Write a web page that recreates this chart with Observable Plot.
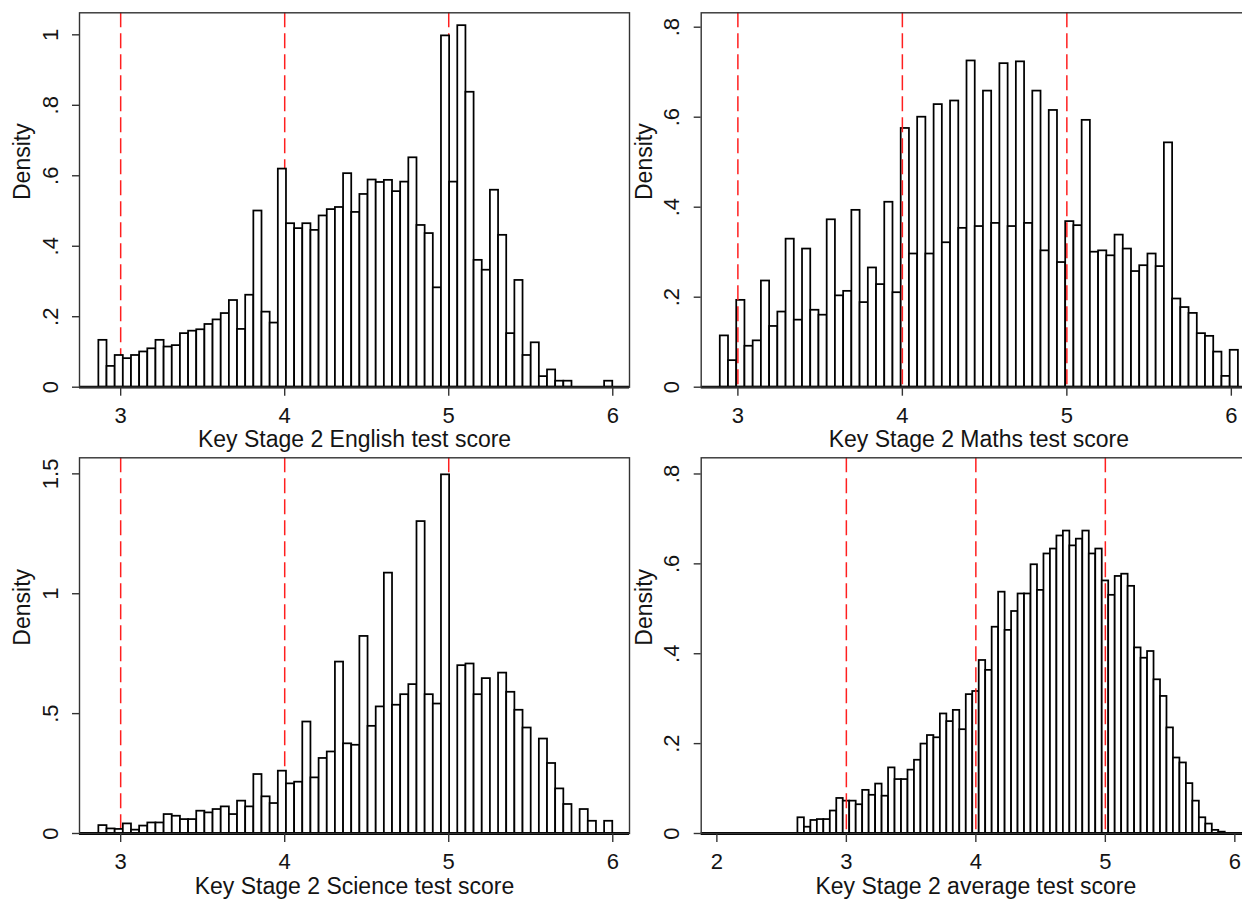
<!DOCTYPE html>
<html>
<head>
<meta charset="utf-8">
<script src="https://cdn.jsdelivr.net/npm/d3@7"></script>
<script src="https://cdn.jsdelivr.net/npm/@observablehq/plot@0.6"></script>
<style>
html, body { margin: 0; padding: 0; background: #fff; overflow: hidden; width: 1242px; height: 900px; }
#wrap { position: relative; width: 1242px; height: 900px; overflow: hidden; background: #fff; }
.panel { position: absolute; }
</style>
</head>
<body>
<div id="wrap"></div>
<script>
// ---- Data (density per bin) ----
const englishStart = 2.867, englishWidth = 0.04973;
const englishDensity = [0.133, 0.059, 0.090, 0.081, 0.090, 0.100, 0.109, 0.133, 0.114, 0.118,
  0.152, 0.159, 0.163, 0.178, 0.191, 0.209, 0.246, 0.164, 0.261, 0.500,
  0.213, 0.182, 0.619, 0.464, 0.450, 0.464, 0.445, 0.486, 0.504, 0.510,
  0.606, 0.496, 0.547, 0.588, 0.581, 0.587, 0.555, 0.582, 0.651, 0.459,
  0.436, 0.282, 0.997, 0.582, 1.026, 0.837, 0.360, 0.332, 0.559, 0.431,
  0.152, 0.303, 0.090, 0.126, 0.030, 0.049, 0.017, 0.017, 0, 0, 0, 0, 0.017];

const mathsStart = 2.893, mathsWidth = 0.05;
const mathsDensity = [0.114, 0.059, 0.193, 0.091, 0.103, 0.236, 0.135, 0.167, 0.329, 0.149,
  0.307, 0.171, 0.160, 0.372, 0.203, 0.213, 0.393, 0.188, 0.265, 0.228,
  0.411, 0.210, 0.575, 0.296, 0.600, 0.296, 0.628, 0.321, 0.636, 0.353,
  0.725, 0.357, 0.658, 0.364, 0.719, 0.357, 0.723, 0.364, 0.658, 0.303,
  0.615, 0.277, 0.368, 0.359, 0.593, 0.300, 0.303, 0.292, 0.338, 0.307,
  0.257, 0.270, 0.296, 0.268, 0.543, 0.196, 0.177, 0.164, 0.119, 0.113,
  0.078, 0.024, 0.082];

const scienceStart = 2.867, scienceWidth = 0.04973;
const scienceDensity = [0.033, 0.019, 0.017, 0.040, 0.014, 0.031, 0.044, 0.044, 0.079, 0.072,
  0.058, 0.058, 0.093, 0.086, 0.100, 0.111, 0.079, 0.135, 0.111, 0.246,
  0.153, 0.125, 0.260, 0.207, 0.214, 0.465, 0.232, 0.313, 0.340, 0.715,
  0.374, 0.368, 0.822, 0.447, 0.528, 1.086, 0.535, 0.579, 0.621, 1.301,
  0.579, 0.540, 1.496, 0, 0.700, 0.707, 0.579, 0.646, 0, 0.669,
  0.589, 0.514, 0.440, 0, 0.394, 0.292, 0.186, 0.121, 0, 0.100,
  0.051, 0, 0.051];

const averageStart = 2.626, averageWidth = 0.05;
const averageDensity = [0.035, 0.014, 0.029, 0.031, 0.031, 0.050, 0.078, 0.072, 0.072, 0.064,
  0.096, 0.085, 0.110, 0.083, 0.146, 0.120, 0.120, 0.141, 0.163, 0.199,
  0.218, 0.213, 0.266, 0.249, 0.274, 0.231, 0.309, 0.316, 0.385, 0.363,
  0.459, 0.537, 0.452, 0.494, 0.533, 0.533, 0.598, 0.541, 0.622, 0.633,
  0.662, 0.673, 0.640, 0.655, 0.673, 0.622, 0.633, 0.562, 0.530, 0.572,
  0.577, 0.550, 0.413, 0.390, 0.405, 0.342, 0.305, 0.235, 0.168, 0.157,
  0.111, 0.072, 0.035, 0.021, 0.007, 0.003];

const cutoffs = [3, 4, 5];
const titles = ["Key Stage 2 English test score", "Key Stage 2 Maths test score",
                "Key Stage 2 Science test score", "Key Stage 2 average test score"];
const yLabel = "Density";
const xTicksMain = [3, 4, 5, 6];
const xTicksAverage = [2, 3, 4, 5, 6];
const yTicksEnglish = [0, 0.2, 0.4, 0.6, 0.8, 1];
const yTicksMaths = [0, 0.2, 0.4, 0.6, 0.8];
const yTicksScience = [0, 0.5, 1, 1.5];
const yTicksAverage = [0, 0.2, 0.4, 0.6, 0.8];

// ---- helpers ----
function bins(heights, start, width) {
  return heights.map((d, i) => ({x1: start + i * width, x2: start + (i + 1) * width, y0: 0, d}))
    .filter(b => b.d > 0);
}
const fmt = d => d === 0 ? "0" : d3.format("~g")(d).replace(/^0\./, ".");
const FONT = "'Liberation Sans', Arial, Helvetica, sans-serif";
const FS = 22;

const panels = [
  {bins: bins(englishDensity, englishStart, englishWidth), title: titles[0], left: 0, top: 0, width: 640, height: 450,
   mL: 79, mR: 11, mT: 12.3, mB: 63.3, xDomain: [2.749, 6.102], yDomain: [0, 1.0625], xTicks: xTicksMain, yTicks: yTicksEnglish, redOnTop: false},
  {bins: bins(mathsDensity, mathsStart, mathsWidth), title: titles[1], left: 640, top: 0, width: 620, height: 450,
   mL: 60.7, mR: 4, mT: 12.3, mB: 63.3, xDomain: [2.777, 6.153], yDomain: [0, 0.832], xTicks: xTicksMain, yTicks: yTicksMaths, redOnTop: true},
  {bins: bins(scienceDensity, scienceStart, scienceWidth), title: titles[2], left: 0, top: 450, width: 640, height: 450,
   mL: 79, mR: 11, mT: 7.3, mB: 67, xDomain: [2.749, 6.102], yDomain: [0, 1.567], xTicks: xTicksMain, yTicks: yTicksScience, redOnTop: false},
  {bins: bins(averageDensity, averageStart, averageWidth), title: titles[3], left: 640, top: 450, width: 620, height: 450,
   mL: 60.7, mR: 10, mT: 7.3, mB: 67, xDomain: [1.879, 6.121], yDomain: [0, 0.836], xTicks: xTicksAverage, yTicks: yTicksAverage, redOnTop: true}
];

const wrap = document.getElementById("wrap");
for (const p of panels) {
  const red = Plot.ruleX(cutoffs, {stroke: "#ff1f1f", strokeWidth: 1.5, strokeDasharray: "15,6"});
  const bars = Plot.rect(p.bins, {x1: "x1", x2: "x2", y1: "y0", y2: "d", fill: "#fff", stroke: "#000", strokeWidth: 1.75});
  const marks = p.redOnTop ? [bars, red] : [red, bars];
  const chart = Plot.plot({
    width: p.width,
    height: p.height,
    marginLeft: p.mL,
    marginRight: p.mR,
    marginTop: p.mT,
    marginBottom: p.mB,
    x: {domain: p.xDomain},
    y: {domain: p.yDomain},
    style: {fontFamily: FONT, fontSize: FS + "px", color: "#141414", background: "transparent", overflow: "visible"},
    marks: [
      ...marks,
      Plot.ruleY([0], {stroke: "#000", strokeWidth: 2.8}),
      Plot.frame({stroke: "#333", strokeWidth: 1.4}),
      Plot.axisX(p.xTicks, {tickSize: 9, tickPadding: 11, stroke: "#333", strokeWidth: 1.4, fontSize: FS, label: null, tickFormat: d => String(d)}),
      Plot.axisY(p.yTicks, {tickSize: 7, tickPadding: 15, tickRotate: -90, stroke: "#333", strokeWidth: 1.4, fontSize: FS, label: null, tickFormat: fmt}),
      Plot.text([p.title], {frameAnchor: "bottom", dy: 60, lineAnchor: "bottom", fontSize: FS + 1, fill: "#141414"}),
      Plot.text([yLabel], {frameAnchor: "left", dx: -66, rotate: -90, lineAnchor: "top", fontSize: FS + 1, fill: "#141414"})
    ]
  });
  const div = document.createElement("div");
  div.className = "panel";
  div.style.left = p.left + "px";
  div.style.top = p.top + "px";
  div.style.width = p.width + "px";
  div.style.height = p.height + "px";
  div.appendChild(chart);
  wrap.appendChild(div);
}
</script>
</body>
</html>
